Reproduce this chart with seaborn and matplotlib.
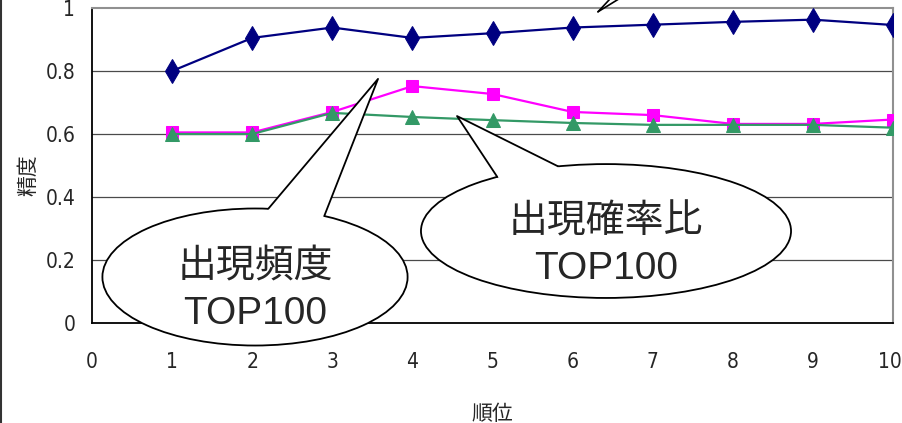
import matplotlib
matplotlib.use('Agg')
import matplotlib.pyplot as plt
import matplotlib.transforms as mtrans
import numpy as np
import seaborn as sns
from matplotlib.lines import Line2D
from matplotlib.patches import Ellipse, Polygon

# data
rank = [1, 2, 3, 4, 5, 6, 7, 8, 9, 10]
blue_vals = [0.800, 0.905, 0.938, 0.905, 0.920, 0.938, 0.947, 0.956, 0.963, 0.946]
pink_vals = [0.605, 0.605, 0.670, 0.752, 0.727, 0.670, 0.660, 0.632, 0.632, 0.646]
green_vals = [0.600, 0.600, 0.667, 0.654, 0.644, 0.635, 0.629, 0.629, 0.629, 0.620]

x_ticks = list(range(0, 11))
y_ticks = [0, 0.2, 0.4, 0.6, 0.8, 1]
y_tick_labels = ['0', '0.2', '0.4', '0.6', '0.8', '1']

label_freq = '出現頻度\nTOP100'
label_ratio = '出現確率比\nTOP100'

sns.set_style('white')
plt.rcParams['font.family'] = ['Liberation Sans', 'Noto Sans CJK JP', 'DejaVu Sans']

fig = plt.figure(figsize=(9.03, 4.23), dpi=100)
ax = fig.add_axes([92 / 903, 100 / 423, 801 / 903, 315 / 423])

sns.lineplot(x=rank, y=blue_vals, ax=ax, color='#000080', lw=1.6, marker='d',
             markersize=12, markeredgecolor='#000080', zorder=3)
sns.lineplot(x=rank, y=pink_vals, ax=ax, color='#FF00FF', lw=1.6, marker='s',
             markersize=8.5, markeredgecolor='#FF00FF', zorder=3)
sns.lineplot(x=rank, y=green_vals, ax=ax, color='#339966', lw=1.6, marker='^',
             markersize=10, markeredgecolor='#339966', zorder=3)

ax.set_xlim(0, 10)
ax.set_ylim(0, 1)
ax.set_xticks(x_ticks)
ax.set_yticks(y_ticks)
ax.set_yticklabels(y_tick_labels)

# grid lines
for yv in y_ticks[1:-1]:
    ax.axhline(yv, color='#4a4a4a', lw=0.9, zorder=1)

for side in ['top', 'right']:
    ax.spines[side].set_color('#909090')
    ax.spines[side].set_linewidth(1.5)
for side in ['left', 'bottom']:
    ax.spines[side].set_color('black')
    ax.spines[side].set_linewidth(1.3)

ax.tick_params(axis='x', direction='in', length=6, width=1, color='black', pad=21)
ax.tick_params(axis='y', length=0, pad=12)
for lab in ax.get_xticklabels() + ax.get_yticklabels():
    lab.set_family(['DejaVu Sans'])
    lab.set_stretch('condensed')
    lab.set_fontsize(15)
# last x label sits on the right edge, nudge it in a little
last = ax.get_xticklabels()[-1]
last.set_transform(last.get_transform()
                   + mtrans.ScaledTranslation(-3 / 100, 0, fig.dpi_scale_trans))

ax.set_xlabel('順位', family=['Noto Sans CJK JP'], fontsize=15, labelpad=22)
ax.set_ylabel('精度', family=['Noto Sans CJK JP'], fontsize=15)
ax.yaxis.set_label_coords(-0.066, 0.47)


def callout(ax, center, w, h, angles, tip, text, text_y):
    cx, cy = center
    e = Ellipse(center, w, h, facecolor='white', edgecolor='black', lw=1.3,
                zorder=5, clip_on=False)
    ax.add_patch(e)
    pts = []
    for a in angles:
        t = np.deg2rad(a)
        pts.append((cx + w / 2 * np.cos(t), cy + h / 2 * np.sin(t)))
    inner = [(p[0] + (cx - p[0]) * 0.06, p[1] + (cy - p[1]) * 0.06) for p in pts]
    tail = Polygon([inner[0], pts[0], tip, pts[1], inner[1]], closed=True,
                   facecolor='white', edgecolor='none', zorder=6, clip_on=False)
    ax.add_patch(tail)
    ax.plot([pts[0][0], tip[0], pts[1][0]], [pts[0][1], tip[1], pts[1][1]],
            color='black', lw=1.3, zorder=7, clip_on=False)
    ax.text(cx, text_y, text, ha='center', va='center', fontsize=28,
            linespacing=1.38, zorder=8)


callout(ax, (2.035, 0.146), 3.81, 0.435, (85, 63), (3.571, 0.775),
        label_freq, 0.103)
callout(ax, (6.417, 0.292), 4.62, 0.425, (126, 105), (4.557, 0.657),
        label_ratio, 0.246)

# tip of a callout cut off at the top
tip3 = (6.317, 0.988)
for end in [(6.617, 1.035), (6.49, 1.035)]:
    ax.plot([tip3[0], end[0]], [tip3[1], end[1]], color='black', lw=1.2,
            zorder=7, clip_on=False)

# left border of the frame
fig.add_artist(Line2D([0.0015, 0.0015], [0, 1], color='#333333', lw=1.5,
                      transform=fig.transFigure))

fig.savefig('out.png', dpi=100)
